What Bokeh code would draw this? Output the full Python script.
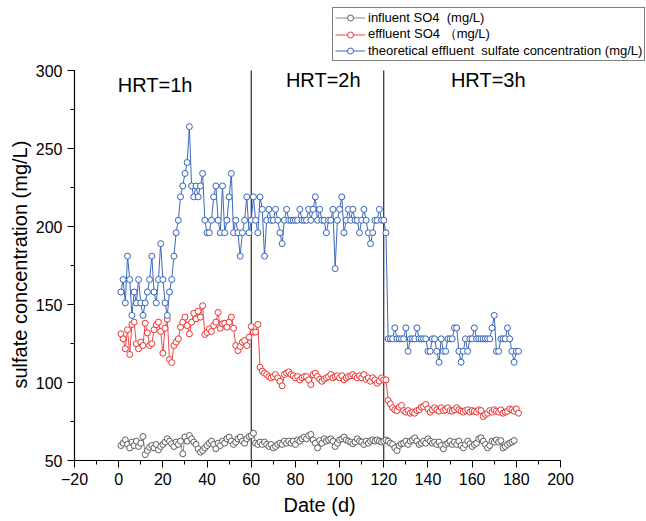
from bokeh.plotting import figure
from bokeh.models import Range1d, SingleIntervalTicker, Label, Legend, LegendItem, Title
from bokeh.embed import file_html
from bokeh.resources import INLINE

days = list(range(1, 182))

influent = [
    59.6, 61.1, 63.2, 60.3, 58.1, 61.8, 59.6, 62.4, 59.0, 61.1,
    65.4, 53.8, 56.4, 58.5, 59.6, 58.1, 60.3, 56.8, 59.0, 60.3,
    61.8, 63.9, 62.4, 60.7, 59.0, 61.8, 60.3, 62.4, 54.3, 65.0,
    62.4, 66.0, 63.9, 61.8, 60.3, 57.5, 55.3, 56.4, 58.1, 59.6,
    61.1, 62.4, 60.3, 57.5, 61.1, 59.6, 62.4, 61.1, 63.9, 65.0,
    62.4, 60.3, 61.8, 63.9, 65.0, 62.4, 61.1, 63.9, 65.4, 66.0,
    67.5, 61.1, 60.3,
    61.8, 60.3, 61.8, 60.3, 59.0, 60.3, 58.1, 59.0, 60.3, 61.1, 60.3, 62.4, 61.1, 62.4,
    61.1, 62.4, 60.3, 63.2, 62.4, 63.9, 65.0, 63.9, 66.0, 66.7,
    63.2, 61.1, 58.1, 62.8, 61.1, 63.9, 62.4, 63.2, 63.9, 62.4,
    59.0, 61.1, 63.2, 63.9, 65.0, 63.2, 62.4, 61.8, 60.7, 61.8,
    63.9, 62.4, 61.8, 60.3, 62.4, 61.1, 62.4, 63.2, 62.4, 63.2,
    62.4, 61.8, 62.4, 63.2, 62.4, 61.1, 60.3, 58.1, 56.4, 59.6,
    60.7, 61.1, 62.4, 60.3, 62.4, 63.2, 64.5, 62.4, 60.3, 61.1,
    62.4, 61.1, 63.9, 62.4, 61.1, 61.8, 60.3, 61.8, 59.6, 57.5,
    60.3, 61.1, 62.4, 60.3, 61.8, 60.3, 62.4, 59.6, 58.1, 60.3,
    62.4, 60.7, 59.0, 60.3, 61.1, 63.9, 64.5, 62.4, 60.3, 58.1,
    59.6, 62.4, 61.8, 63.2, 61.8, 62.8, 58.1, 59.0, 60.3, 61.1,
    61.8, 62.8,
]

effluent = [
    131.2, 128.0, 121.6, 133.8, 118.0, 137.2, 138.7, 124.8, 121.6, 125.9,
    123.7, 138.0, 131.8, 123.7, 124.8, 133.8, 137.0, 138.7, 132.7, 118.8,
    134.8, 140.6, 114.7, 112.8, 123.7, 125.9, 128.0, 135.5, 138.7, 141.9,
    136.5, 131.2, 138.7, 144.4, 140.8, 145.7, 141.9, 149.2, 130.8, 132.1,
    134.4, 132.7, 136.5, 138.7, 144.9, 134.8, 137.6, 138.0, 135.5, 138.7,
    141.9, 134.8, 123.7, 120.5, 123.1, 125.9, 126.9, 123.7, 129.1, 135.9,
    132.3, 132.3, 137.2,
    109.8, 107.3, 106.0, 105.1, 103.8, 103.0, 103.8, 105.1, 103.0, 100.8,
    97.9, 105.1, 106.0, 106.8, 105.1, 104.3, 103.0, 103.8, 101.7, 103.0,
    103.8, 103.8, 101.7, 98.7, 105.1, 106.0, 103.8, 102.1, 100.8, 102.1,
    103.0, 103.8, 105.1, 103.0, 103.8, 104.3, 103.0, 104.3, 101.7, 103.0,
    103.8, 104.3, 105.1, 103.8, 103.0, 104.3, 103.0, 105.1, 102.1, 103.0,
    100.8, 103.0, 101.7, 99.6, 100.9, 103.0, 101.7, 101.7,
    88.5, 86.3, 83.8, 82.5, 82.0, 84.2, 85.3, 82.0, 81.0, 82.0,
    80.3, 81.0, 80.3, 82.0, 82.5, 84.2, 84.6, 85.9, 83.1, 81.0,
    82.5, 83.8, 82.5, 81.6, 83.8, 82.0, 82.5, 83.8, 82.0, 81.6,
    82.5, 83.8, 82.5, 81.6, 81.0, 82.0, 82.5, 81.0, 82.0, 81.6,
    81.0, 82.5, 82.0, 78.2, 79.5, 80.3, 82.0, 81.0, 82.5, 81.6,
    81.0, 82.5, 80.3, 81.0, 81.6, 83.1, 82.5, 81.6, 83.1, 80.3,
]

theoretical = [
    158, 166, 151, 181, 166, 143, 158, 151, 166, 151,
    143, 151, 158, 166, 181, 158, 151, 166, 189, 166,
    151, 143, 158, 166, 181, 196,
    204, 219, 226, 234, 241, 264, 226, 219, 226, 219,
    226, 234, 204, 196, 196, 204, 219, 226, 204, 196,
    226, 196, 204, 219, 234, 196, 204, 196, 181, 196,
    204, 219, 196, 204, 219, 204, 196, 219,
    211, 181, 204, 211, 204, 204, 211, 204, 196, 189,
    204, 211, 204, 204, 204, 204, 204, 211, 204, 204,
    204, 211, 204, 211, 219, 204, 211, 204, 204, 196,
    204, 204, 211, 173, 204, 211, 219,
    196, 204, 211, 204, 211, 204, 204, 196, 204, 211,
    204, 196, 189, 196, 204, 204, 211, 204, 204, 196,
    128, 128, 128, 135, 128, 128, 128, 128, 135, 120,
    128, 128, 128, 135, 128, 128, 128, 128, 120, 120,
    128, 128, 120, 113, 128, 120, 120, 128, 128, 128,
    135, 135, 120, 113, 120, 128, 120, 128, 128, 135,
    128, 128, 128, 128, 128, 128, 128, 135, 143, 120,
    120, 128, 128, 128, 135, 128, 120, 113, 120, 120,
]

series_names = [
    "influent SO4  (mg/L)",
    "effluent SO4 \uff08mg/L)",
    "theoretical effluent  sulfate concentration (mg/L)",
]
x_title = "Date (d)"
y_title = "sulfate concentration (mg/L)"
hrt_labels = ["HRT=1h", "HRT=2h", "HRT=3h"]
hrt_x = [16.5, 92.6, 167.3]
hrt_y = [290.4, 294.0, 294.0]
phase_bounds = [60, 120]
x_axis_span = (-20, 200)
y_axis_span = (50, 300)

FONT = "Liberation Sans"

FRAME_L, FRAME_B = 74, 61
x_px_per_unit = 486 / 220.0
y_px_per_unit = 390 / 250.0
x_end = x_axis_span[0] + (646 - FRAME_L) / x_px_per_unit
y_end = y_axis_span[0] + (521 - FRAME_B) / y_px_per_unit

p = figure(width=646, height=521, output_backend="svg", toolbar_location=None,
           x_range=Range1d(x_axis_span[0], x_end), y_range=Range1d(y_axis_span[0], y_end),
           min_border_left=FRAME_L, min_border_right=0, min_border_top=0, min_border_bottom=FRAME_B)
p.grid.visible = False
p.outline_line_color = None
p.background_fill_color = "white"
p.border_fill_color = "white"

p.xaxis.ticker = SingleIntervalTicker(interval=20, num_minor_ticks=2)
p.yaxis.ticker = SingleIntervalTicker(interval=50, num_minor_ticks=2)
p.xaxis.bounds = x_axis_span
p.yaxis.bounds = y_axis_span
for ax in (p.xaxis[0], p.yaxis[0]):
    ax.axis_line_color = "black"
    ax.axis_line_width = 1.2
    ax.major_tick_line_color = "black"
    ax.minor_tick_line_color = "black"
    ax.major_tick_out = 7
    ax.major_tick_in = 0
    ax.minor_tick_out = 4
    ax.minor_tick_in = 0
    ax.major_label_text_font = FONT
    ax.major_label_text_font_size = "16px"
    ax.major_label_text_color = "black"

# axis titles as panel titles so they can be centred on the drawn axis span
p.add_layout(Title(text=x_title, align="left", offset=209, standoff=8,
                   text_font=FONT, text_font_size="20px", text_font_style="normal",
                   text_color="black"), "below")
p.add_layout(Title(text=y_title, align="left", offset=72, standoff=4,
                   text_font=FONT, text_font_size="20px", text_font_style="normal",
                   text_color="black"), "left")

p.segment(x0=phase_bounds, y0=[y_axis_span[0]] * len(phase_bounds),
          x1=phase_bounds, y1=[y_axis_span[1]] * len(phase_bounds),
          line_color="black", line_width=1)

styles = [
    ("#8a8a8a", "#5e5e5e"),
    ("#f04848", "#ee3030"),
    ("#3a68bf", "#3563bb"),
]
items = []
for name, ys, (lc, mc) in zip(series_names, [influent, effluent, theoretical], styles):
    r1 = p.line(days, ys, line_color=lc, line_width=1)
    r2 = p.scatter(days, ys, marker="circle", size=6, line_color=mc, line_width=1, fill_color="white")
    items.append(LegendItem(label=name, renderers=[r1, r2]))

legend = Legend(items=items, location=(258, 399))
legend.label_text_font = FONT
legend.label_text_font_size = "13px"
legend.label_text_color = "black"
legend.label_height = 15
legend.glyph_height = 15
legend.glyph_width = 30
legend.label_standoff = 3
legend.spacing = 0
legend.padding = 2
legend.margin = 0
legend.border_line_color = "black"
legend.border_line_width = 1
legend.background_fill_color = "white"
legend.background_fill_alpha = 1
p.add_layout(legend)

for t, x, y in zip(hrt_labels, hrt_x, hrt_y):
    p.add_layout(Label(x=x, y=y, text=t, text_align="center", text_baseline="middle",
                       text_font=FONT, text_font_size="20px", text_color="black"))

open("out.html", "w").write(file_html(p, INLINE))
